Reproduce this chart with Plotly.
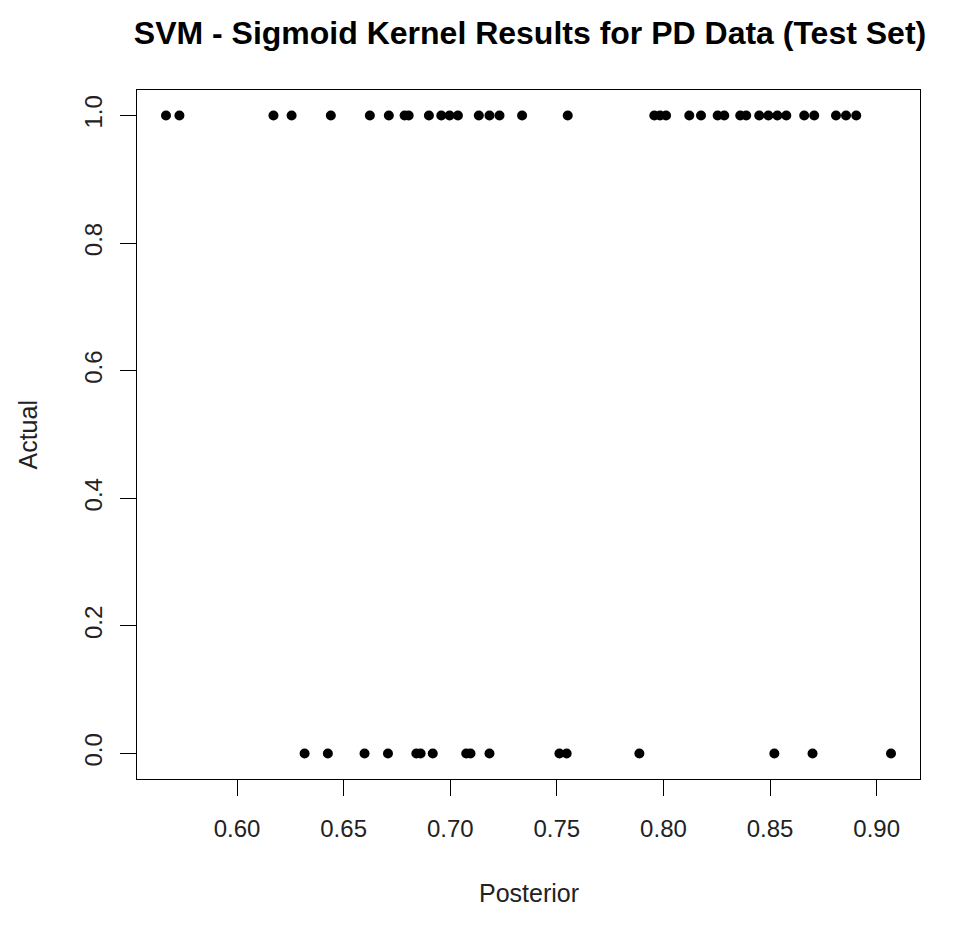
import plotly.graph_objects as go

# Posterior probabilities for observations with Actual = 1
posterior_actual1 = [0.5667, 0.5730, 0.6171, 0.6256, 0.6440, 0.6623, 0.6712, 0.6786, 0.6805,
                     0.6900, 0.6958, 0.6997, 0.7036, 0.7134, 0.7184, 0.7231, 0.7337, 0.7551,
                     0.7957, 0.7984, 0.8012, 0.8121, 0.8176, 0.8254, 0.8285, 0.8360, 0.8388,
                     0.8449, 0.8492, 0.8534, 0.8576, 0.8660, 0.8707, 0.8809, 0.8856, 0.8904]
# Posterior probabilities for observations with Actual = 0
posterior_actual0 = [0.6317, 0.6426, 0.6598, 0.6708, 0.6841, 0.6861, 0.6918, 0.7075, 0.7095,
                     0.7184, 0.7512, 0.7546, 0.7887, 0.8520, 0.8699, 0.9067]

x_vals = posterior_actual1 + posterior_actual0
y_vals = [1.0] * len(posterior_actual1) + [0.0] * len(posterior_actual0)

x_ticks = [0.60, 0.65, 0.70, 0.75, 0.80, 0.85, 0.90]
x_ticklabels = ["0.60", "0.65", "0.70", "0.75", "0.80", "0.85", "0.90"]
y_ticks = [0.0, 0.2, 0.4, 0.6, 0.8, 1.0]
y_ticklabels = ["0.0", "0.2", "0.4", "0.6", "0.8", "1.0"]

FONT = "Liberation Sans, Arial, sans-serif"

xmin, xmax = min(x_vals), max(x_vals)
pad = 0.04 * (xmax - xmin)

fig = go.Figure()
fig.add_trace(go.Scatter(
    x=x_vals, y=y_vals, mode="markers",
    marker=dict(color="black", size=10, line=dict(width=0)),
    showlegend=False, hoverinfo="x+y",
))

axis_common = dict(
    showgrid=False, zeroline=False, showline=True, mirror=True,
    linecolor="black", linewidth=1, ticks="outside", ticklen=16,
    tickcolor="black", tickwidth=1,
    tickfont=dict(family=FONT, size=24, color="#222222"),
)

fig.update_layout(
    width=977, height=941,
    margin=dict(l=137, r=57, t=90, b=162),
    paper_bgcolor="white", plot_bgcolor="white",
    title=dict(
        text="<b>SVM - Sigmoid Kernel Results for PD Data (Test Set)</b>",
        font=dict(family=FONT, size=32, color="black"),
        x=530 / 977, xref="container", xanchor="center",
        y=1 - 33 / 941, yref="container", yanchor="middle",
    ),
    xaxis=dict(range=[xmin - pad, xmax + pad], tickvals=x_ticks, ticktext=x_ticklabels,
               ticklabelstandoff=12, **axis_common),
    yaxis=dict(range=[-0.04, 1.04], tickvals=y_ticks, ticktext=y_ticklabels,
               tickangle=-90, ticklabelstandoff=8, **axis_common),
    annotations=[
        dict(text="Posterior", xref="paper", yref="paper", x=0.5, y=(779 - 893) / 689,
             xanchor="center", yanchor="middle", showarrow=False,
             font=dict(family=FONT, size=25, color="#222222")),
        dict(text="Actual", xref="paper", yref="paper", x=(27 - 137) / 783, y=0.5,
             xanchor="center", yanchor="middle", textangle=-90, showarrow=False,
             font=dict(family=FONT, size=25, color="#222222")),
    ],
)

fig.write_html("out.html")
